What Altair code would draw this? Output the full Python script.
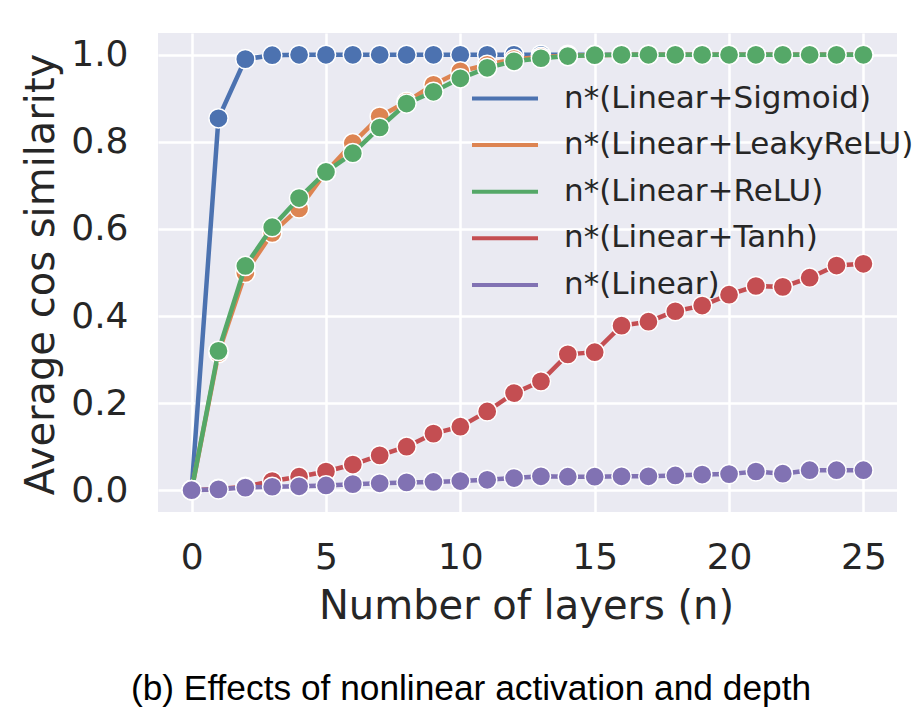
import altair as alt
import pandas as pd

layers_n = list(range(26))

series_names = [
    "n*(Linear+Sigmoid)",
    "n*(Linear+LeakyReLU)",
    "n*(Linear+ReLU)",
    "n*(Linear+Tanh)",
    "n*(Linear)",
]
series_colors = ["#4C72B0", "#DD8452", "#55A868", "#C44E52", "#8172B3"]

sigmoid = [0.0, 0.854, 0.990, 0.999, 1.0, 1.0, 1.0, 1.0, 1.0, 1.0, 1.0, 1.0, 1.0,
           1.0, 1.0, 1.0, 1.0, 1.0, 1.0, 1.0, 1.0, 1.0, 1.0, 1.0, 1.0, 1.0]
leaky = [0.0, 0.315, 0.499, 0.591, 0.647, 0.731, 0.797, 0.858, 0.892, 0.931, 0.962, 0.977, 0.990,
         0.995, 0.998, 0.999, 1.0, 1.0, 1.0, 1.0, 1.0, 1.0, 1.0, 1.0, 1.0, 1.0]
relu = [0.0, 0.320, 0.515, 0.604, 0.671, 0.731, 0.774, 0.833, 0.888, 0.915, 0.946, 0.970, 0.985,
        0.992, 0.997, 0.999, 1.0, 1.0, 1.0, 1.0, 1.0, 1.0, 1.0, 1.0, 1.0, 1.0]
tanh = [0.0, 0.003, 0.008, 0.021, 0.031, 0.043, 0.059, 0.080, 0.100, 0.130, 0.146, 0.181, 0.223,
        0.250, 0.312, 0.317, 0.378, 0.387, 0.411, 0.424, 0.449, 0.469, 0.467, 0.488, 0.516, 0.520]
linear = [0.0, 0.002, 0.006, 0.008, 0.009, 0.011, 0.014, 0.016, 0.018, 0.019, 0.021, 0.024, 0.028,
          0.032, 0.031, 0.031, 0.032, 0.032, 0.034, 0.036, 0.037, 0.043, 0.038, 0.046, 0.046, 0.046]

x_ticks = [0, 5, 10, 15, 20, 25]
y_ticks = [0.0, 0.2, 0.4, 0.6, 0.8, 1.0]

caption = "(b) Effects of nonlinear activation and depth"

all_values = [sigmoid, leaky, relu, tanh, linear]
rows = []
for name, vals in zip(series_names, all_values):
    for n, v in zip(layers_n, vals):
        rows.append({"n": n, "sim": v, "series": name})
df = pd.DataFrame(rows)

TXT = "#262626"
FONT = "DejaVu Sans"

x_enc = alt.X(
    "n:Q",
    scale=alt.Scale(domain=[-1.25, 26.25], nice=False, zero=False),
    axis=alt.Axis(
        values=x_ticks, title="Number of layers (n)", format="d",
        labelFontSize=36, titleFontSize=40, labelPadding=28,
        titleX=368, titleY=106, titleBaseline="alphabetic", titleAnchor="middle",
    ),
)
y_enc = alt.Y(
    "sim:Q",
    scale=alt.Scale(domain=[-0.05, 1.05], nice=False, zero=False),
    axis=alt.Axis(
        values=y_ticks, title="Average cos similarity", format=".1f",
        labelFontSize=36, titleFontSize=40, labelPadding=30,
        titleX=-105, titleY=241, titleAngle=-90, titleBaseline="alphabetic",
        titleAlign="center",
    ),
)

stroke_scale = alt.Scale(domain=series_names, range=series_colors)
legend = alt.Legend(
    title=None, orient="none", legendX=312, legendY=50,
    symbolType="stroke", symbolSize=4356, symbolStrokeWidth=4,
    labelFontSize=31, labelColor=TXT, labelFont=FONT, labelOffset=24,
    rowPadding=14.6, clipHeight=31, padding=0, labelLimit=600,
)

layers = []
for name in series_names:
    base = alt.Chart(df).transform_filter(alt.datum.series == name)
    line = base.mark_line(strokeWidth=4.5).encode(
        x=x_enc, y=y_enc,
        stroke=alt.Stroke("series:N", scale=stroke_scale, legend=legend),
    )
    pts = base.mark_point(filled=True, shape="circle", size=370, stroke="white",
                          strokeWidth=1.5, opacity=1).encode(
        x=x_enc, y=y_enc,
        fill=alt.Fill("series:N", scale=stroke_scale, legend=None),
    )
    layers += [line, pts]

cap = alt.Chart(alt.Data(values=[{"t": caption}])).mark_text(
    font="Liberation Sans", fontSize=35.3, color="black", align="center",
    baseline="alphabetic",
).encode(text="t:N", x=alt.value(313), y=alt.value(667))
layers.append(cap)

chart = alt.layer(*layers).properties(
    width=739, height=479,
    autosize=alt.AutoSizeParams(type="none"),
    padding={"left": 158, "top": 33, "right": 17, "bottom": 210},
    background="white",
).configure_view(
    fill="#EAEAF2", strokeWidth=0,
).configure_axis(
    grid=True, gridColor="white", gridWidth=2.5, gridOpacity=1,
    domain=False, ticks=False, tickSize=0,
    labelColor=TXT, titleColor=TXT, labelFont=FONT, titleFont=FONT,
    titleFontWeight="normal",
)

chart.save("out.html", embed_options={"renderer": "svg", "actions": False})
